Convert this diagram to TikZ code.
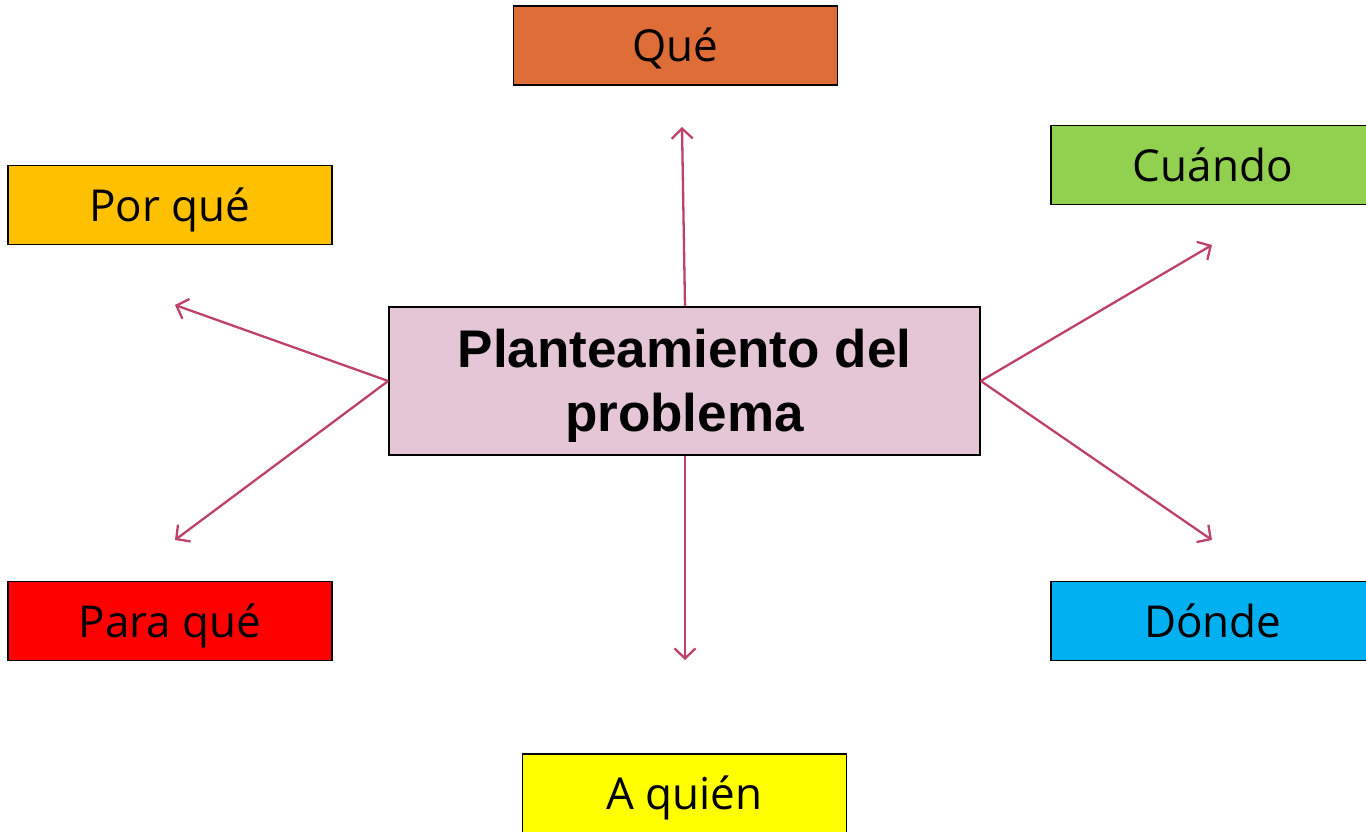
\documentclass[tikz,border=0pt]{standalone}
\usepackage{fontspec}
\setmainfont{Open Sans}
\newfontfamily\boldsans{Liberation Sans}
\usetikzlibrary{arrows.meta}
\definecolor{cQue}{RGB}{223,109,55}
\definecolor{cPorque}{RGB}{255,192,0}
\definecolor{cCuando}{RGB}{146,208,80}
\definecolor{cCenter}{RGB}{228,198,214}
\definecolor{cPara}{RGB}{255,0,0}
\definecolor{cDonde}{RGB}{0,176,240}
\definecolor{cAquien}{RGB}{255,255,0}
\definecolor{cArrow}{RGB}{190,65,105}
\tikzset{
  labelbox/.style={draw=black, line width=1.6pt, minimum width=324pt, minimum height=79pt, inner sep=0pt, text height=33pt, text depth=0pt, font=\fontsize{44}{52}\selectfont},
  centerbox/.style={draw=black, line width=1.6pt, fill=cCenter, minimum width=591pt, minimum height=148pt, inner sep=0pt, align=center, font=\boldsans\bfseries\fontsize{53}{63.5}\selectfont},
  link/.style={draw=cArrow, line width=2.3pt, -{Straight Barb[length=10pt,width=21pt,line width=2.3pt]}}
}
\begin{document}
\begin{tikzpicture}[x=1pt,y=-1pt]
\useasboundingbox (0,0) rectangle (1366,832);
\begin{scope}
\clip (0,0) rectangle (1366,832);
\node[labelbox, fill=cQue] (que) at (675.5,45.5) {Qué};
\node[labelbox, fill=cPorque] (porque) at (170,205) {Por qué};
\node[labelbox, fill=cCuando, anchor=west] (cuando) at (1050,165) {Cuándo};
\node[labelbox, fill=cPara] (para) at (170,621) {Para qué};
\node[labelbox, fill=cDonde, anchor=west] (donde) at (1050,621) {Dónde};
\node[labelbox, fill=cAquien, anchor=north] (aquien) at (684.5,753) {A quién};
\end{scope}
\node[centerbox] (center) at (684.5,381) {\rule{0pt}{48pt}Planteamiento del\\problema};
\coordinate (tQue) at (682,127);
\coordinate (tPorque) at (175,305);
\coordinate (tPara) at (175,540);
\coordinate (tCuando) at (1212,245);
\coordinate (tDonde) at (1212,540);
\coordinate (tAquien) at (685,660);
\draw[link] ([xshift=0.5pt]center.north) -- (tQue);
\draw[link] (center.west) -- (tPorque);
\draw[link] (center.west) -- (tPara);
\draw[link] (center.east) -- (tCuando);
\draw[link] (center.east) -- (tDonde);
\draw[link] ([xshift=0.5pt]center.south) -- (tAquien);
\end{tikzpicture}
\end{document}
